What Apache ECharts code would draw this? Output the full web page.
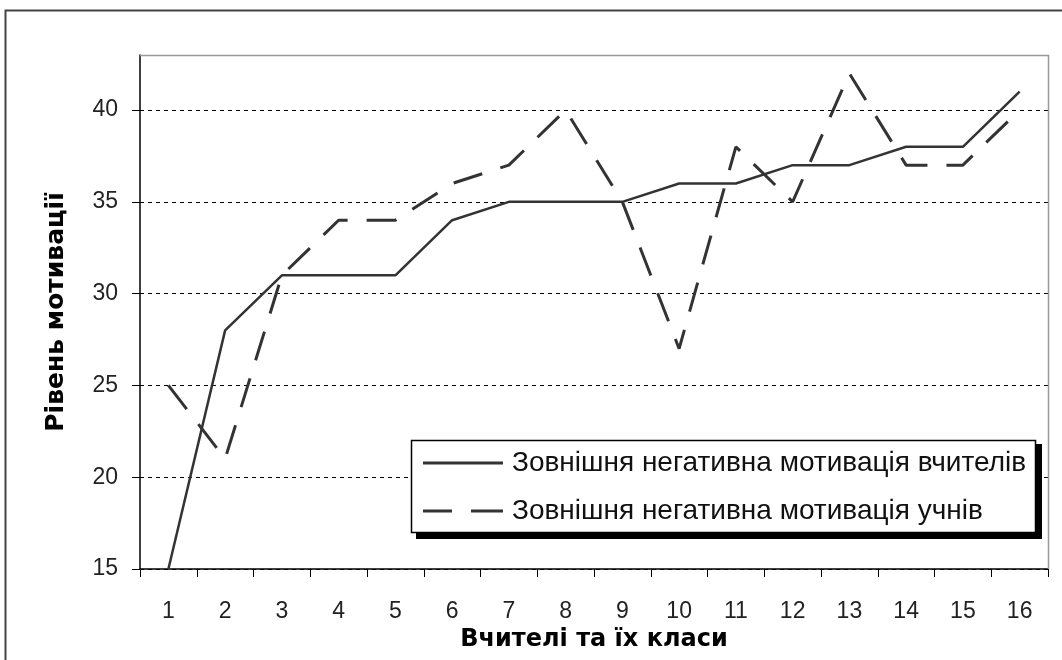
<!DOCTYPE html>
<html><head><meta charset="utf-8">
<script src="https://cdn.jsdelivr.net/npm/echarts@6/dist/echarts.min.js"></script>
<style>html,body{margin:0;padding:0;background:#fff}#c{width:1062px;height:660px}</style>
</head><body><div id="c"></div>
<script>
const categories = ['1','2','3','4','5','6','7','8','9','10','11','12','13','14','15','16'];
const teachers = [15,28,31,31,31,34,35,35,35,36,36,37,37,38,38,41];
const students = [25,21,31,34,34,36,37,40,35,27,38,35,42,37,37,40];
const seriesNames = ['Зовнішня негативна мотивація вчителів','Зовнішня негативна мотивація учнів'];
const yName = 'Рівень мотивації';
const xName = 'Вчителі та їх класи';

const chart = echarts.init(document.getElementById('c'));
const F = "'Liberation Sans', Arial, sans-serif";
const FB = "'DejaVu Sans', sans-serif";
chart.setOption({
  animation:false,
  graphic:[
    {type:'rect',shape:{x:5.5,y:10.5,width:1070,height:670},style:{fill:'none',stroke:'#444',lineWidth:2},z:-1},
    {type:'polyline',shape:{points:[[140,55.5],[1048.5,55.5],[1048.5,569]]},style:{stroke:'#999',lineWidth:1.5,fill:'none'},z:1},
    {type:'rect',shape:{x:416,y:444,width:626,height:95},style:{fill:'#000'},z:5},
    {type:'rect',shape:{x:411.5,y:440.5,width:624,height:92},style:{fill:'#fff',stroke:'#000',lineWidth:1.5},z:6}
  ],
  grid:{left:140,top:55,width:908,height:514},
  xAxis:{type:'category',data:categories,boundaryGap:true,
    axisLine:{lineStyle:{color:'#000',width:1.5}},
    axisTick:{show:true,length:8,lineStyle:{color:'#000'}},
    axisLabel:{color:'#222',fontSize:23,fontFamily:F,margin:31},
    name:xName,nameLocation:'middle',nameGap:54,
    nameTextStyle:{fontSize:24,fontWeight:'bold',color:'#000',fontFamily:FB}},
  yAxis:{type:'value',min:15,max:43,interval:5,
    axisLine:{show:true,lineStyle:{color:'#000',width:1.5}},
    axisTick:{show:true,length:8,lineStyle:{color:'#000'}},
    axisLabel:{color:'#222',fontSize:23,fontFamily:F,margin:22,showMaxLabel:false},
    splitLine:{show:true,lineStyle:{color:'#000',type:[4,4],width:1}},
    name:yName,nameLocation:'middle',nameGap:71,nameRotate:90,
    nameTextStyle:{fontSize:25,fontWeight:'bold',color:'#000',fontFamily:FB}},
  legend:{orient:'vertical',left:423,top:449,z:7,
    padding:0,itemWidth:80,itemHeight:3,itemGap:20,
    textStyle:{fontSize:28,lineHeight:27,color:'#111',fontFamily:F,padding:[0,0,0,4]},
    data:[
      {name:seriesNames[0],icon:'path://M0,0H80V3H0Z'},
      {name:seriesNames[1],icon:'path://M0,0H29V3H0Z M48,0H80V3H48Z'}
    ]},
  series:[
    {name:seriesNames[0],type:'line',data:teachers,symbol:'none',
      lineStyle:{color:'#333',width:2.5,type:'solid'},itemStyle:{color:'#333'},z:3},
    {name:seriesNames[1],type:'line',data:students,symbol:'none',
      lineStyle:{color:'#333',width:3,type:[30,19]},itemStyle:{color:'#333'},z:2}
  ]
});
</script></body></html>
